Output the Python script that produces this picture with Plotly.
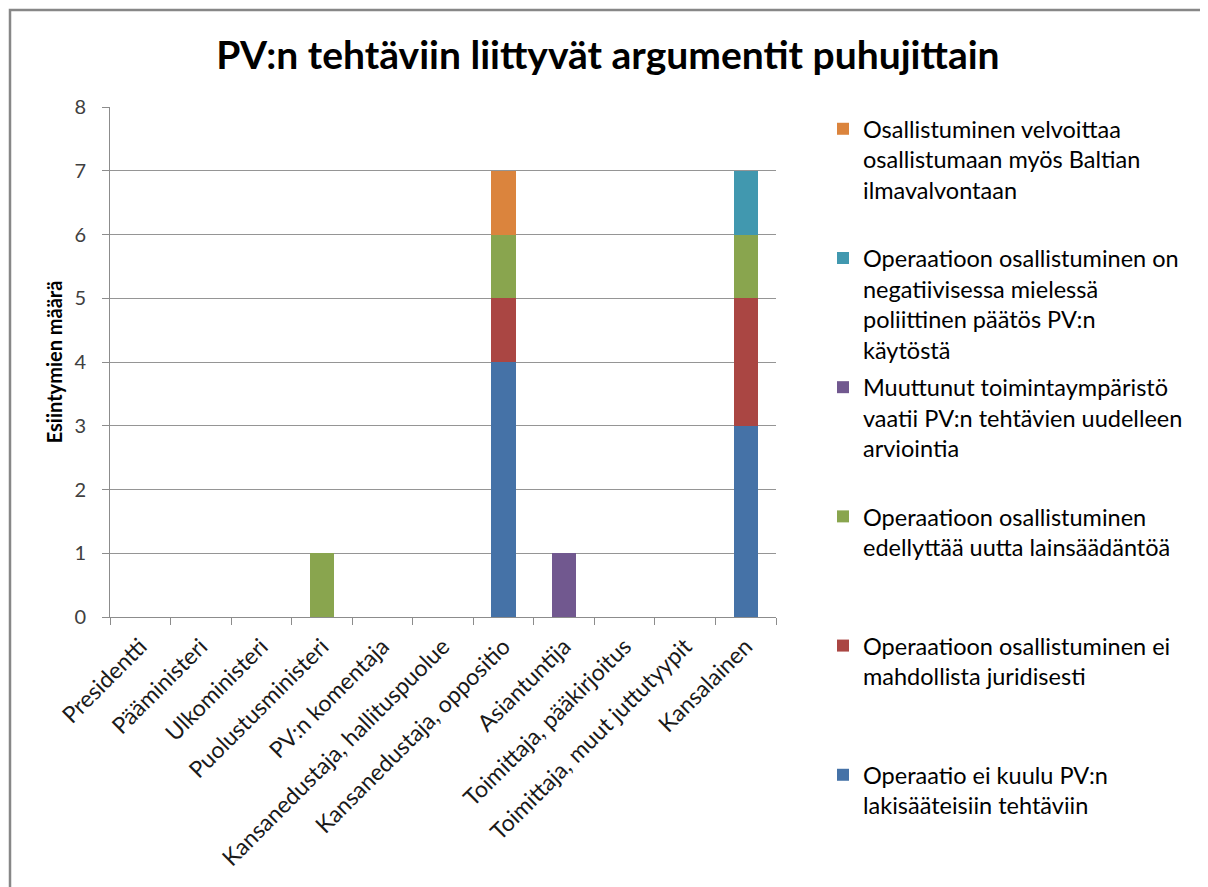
import plotly.graph_objects as go

# ---- data ----
categories = [
    "Presidentti", "Pääministeri", "Ulkoministeri", "Puolustusministeri",
    "PV:n komentaja", "Kansanedustaja, hallituspuolue", "Kansanedustaja, oppositio",
    "Asiantuntija", "Toimittaja, pääkirjoitus", "Toimittaja, muut juttutyypit",
    "Kansalainen",
]

series_names = [
    "Operaatio ei kuulu PV:n<br>lakisääteisiin tehtäviin",
    "Operaatioon osallistuminen ei<br>mahdollista juridisesti",
    "Operaatioon osallistuminen<br>edellyttää uutta lainsäädäntöä",
    "Muuttunut toimintaympäristö<br>vaatii PV:n tehtävien uudelleen<br>arviointia",
    "Operaatioon osallistuminen on<br>negatiivisessa mielessä<br>poliittinen päätös PV:n<br>käytöstä",
    "Osallistuminen velvoittaa<br>osallistumaan myös Baltian<br>ilmavalvontaan",
]

blue_vals   = [0, 0, 0, 0, 0, 0, 4, 0, 0, 0, 3]
red_vals    = [0, 0, 0, 0, 0, 0, 1, 0, 0, 0, 2]
green_vals  = [0, 0, 0, 1, 0, 0, 1, 0, 0, 0, 1]
purple_vals = [0, 0, 0, 0, 0, 0, 0, 1, 0, 0, 0]
teal_vals   = [0, 0, 0, 0, 0, 0, 0, 0, 0, 0, 1]
orange_vals = [0, 0, 0, 0, 0, 0, 1, 0, 0, 0, 0]

series_values = [blue_vals, red_vals, green_vals, purple_vals, teal_vals, orange_vals]
series_colors = ["#4572A7", "#AA4643", "#89A54E", "#71588F", "#4198AF", "#DB843D"]

title_text = "PV:n tehtäviin liittyvät argumentit puhujittain"
y_title = "Esiintymien määrä"

# ---- layout geometry (reference pixels; page body adds an 8px offset) ----
OFF = 8
W, H = 1208 - OFF, 887 - OFF
PL, PR, PT, PB = 110 - OFF, 776 - OFF, 107 - OFF, 617 - OFF
pw, ph = PR - PL, PB - PT

def px_x(x_ref):
    return (x_ref - OFF - PL) / pw

def px_y(y_ref):
    return (PB - (y_ref - OFF)) / ph

FONT = "Lato, 'DejaVu Sans', sans-serif"
LEG_LINES = 4
n_series = len(series_names)

fig = go.Figure()
for i, (name, vals, col) in enumerate(zip(series_names, series_values, series_colors)):
    n = name.count("<br>") + 1
    padded = name + "<br>\u00a0" * (LEG_LINES - n)
    fig.add_trace(go.Bar(
        x=categories, y=vals, name=padded,
        marker=dict(color=col, line=dict(width=0)),
        legendgroup=f"g{i}",
        legendrank=n_series - i,
    ))

fig.update_layout(
    width=W, height=H,
    barmode="stack",
    bargap=0.6,
    paper_bgcolor="white",
    plot_bgcolor="white",
    margin=dict(l=PL, r=W - PR, t=PT, b=H - PB, autoexpand=False),
    font=dict(family=FONT, color="#000000"),
    title=dict(
        text=title_text,
        x=(608 - OFF) / W, xanchor="center", xref="container",
        y=1 - (55 - OFF) / H, yanchor="middle", yref="container",
        font=dict(size=39, family=FONT, color="#000000", weight="bold"),
    ),
    legend=dict(
        x=px_x(823), xanchor="left",
        y=1 - (107 - OFF) / H, yanchor="top", yref="container",
        maxheight=820,
        traceorder="grouped",
        tracegroupgap=4,
        valign="top",
        font=dict(size=23.5, family=FONT, color="#000000"),
        bgcolor="rgba(0,0,0,0)",
    ),
    xaxis=dict(
        type="category",
        showline=True, linecolor="#8C8C8C", linewidth=1,
        ticks="outside", ticklen=7, tickcolor="#8C8C8C", tickson="boundaries",
        tickangle=-45,
        ticklabelstandoff=6,
        tickfont=dict(size=23, family=FONT, color="#1a1a1a"),
        showgrid=False,
        range=[-0.5, len(categories) - 0.5],
    ),
    yaxis=dict(
        range=[0, 8], dtick=1,
        showline=True, linecolor="#8C8C8C", linewidth=1,
        ticks="outside", ticklen=7, tickcolor="#8C8C8C",
        ticklabelstandoff=12,
        showgrid=True, gridcolor="#959595", gridwidth=1,
        zeroline=False,
        tickfont=dict(size=20, family=FONT, color="#404040"),
        title=dict(text=y_title, standoff=6,
                   font=dict(size=20, family=FONT, color="#000000", weight="bold")),
    ),
    shapes=[dict(
        type="rect", xref="paper", yref="paper",
        x0=px_x(10), x1=px_x(1202.5), y0=px_y(10), y1=px_y(900),
        line=dict(color="#878787", width=2.5), fillcolor="rgba(0,0,0,0)",
        layer="below",
    )],
)

fig.write_html("out.html")
